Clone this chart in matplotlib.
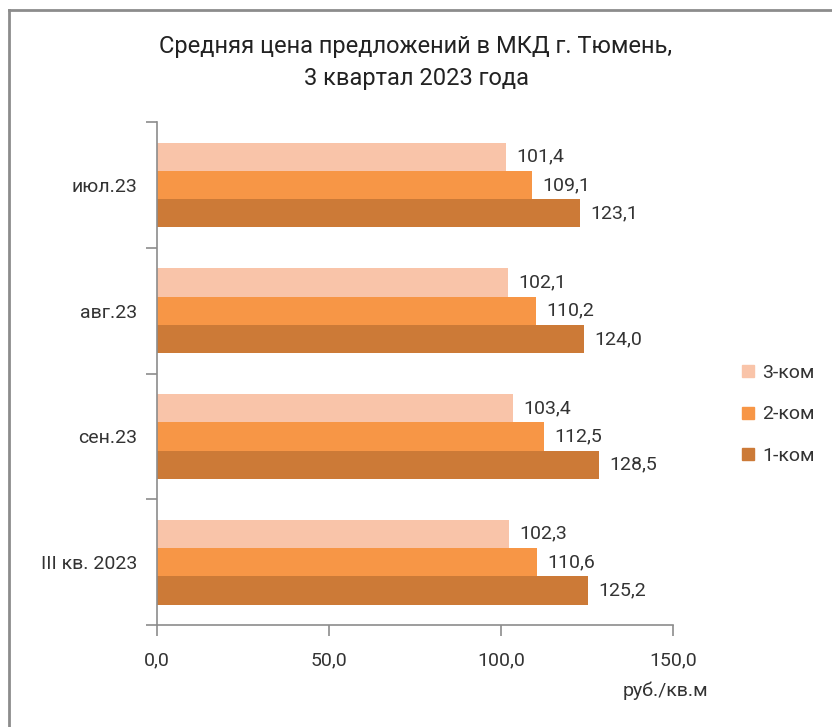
import numpy as np
import matplotlib.pyplot as plt
from matplotlib.lines import Line2D

plt.rcParams['font.family'] = ['Roboto', 'DejaVu Sans']

categories = ['июл.23', 'авг.23', 'сен.23', 'III кв. 2023']
series = ['3-ком', '2-ком', '1-ком']
vals_3 = [101.4, 102.1, 103.4, 102.3]
vals_2 = [109.1, 110.2, 112.5, 110.6]
vals_1 = [123.1, 124.0, 128.5, 125.2]
colors = ['#F9C4A9', '#F79646', '#CC7A37']
xticks = [0, 50, 100, 150]

def fmt(v):
    return f'{v:.1f}'.replace('.', ',')

fig = plt.figure(figsize=(8.32, 7.27), dpi=100)
ax = fig.add_axes([0.1887, 0.1403, 0.6202, 0.6917])

y = np.arange(len(categories))
h = 0.225
offsets = [-h, 0, h]
for vals, off, c in zip([vals_3, vals_2, vals_1], offsets, colors):
    bars = ax.barh(y + off, vals, height=h, color=c)
    for b, v in zip(bars, vals):
        ax.text(v + 3, b.get_y() + b.get_height() / 2, fmt(v),
                va='center', ha='left', fontsize=14, color='#333333')

ax.set_ylim(len(categories) - 0.5, -0.5)
ax.set_xlim(0, 150)
ax.set_xticks(xticks)
ax.set_xticklabels([fmt(t) for t in xticks], fontsize=14, color='#333333')
ax.set_yticks(y)
ax.set_yticklabels(categories, fontsize=14, color='#333333')
ax.tick_params(axis='y', length=0, pad=14)
ax.set_yticks(np.arange(-0.5, len(categories)), minor=True)
ax.tick_params(axis='y', which='minor', length=8, color='#8c8c8c', width=1.2)
ax.tick_params(axis='x', length=8, color='#8c8c8c', width=1.2, pad=11)

for s in ['top', 'right']:
    ax.spines[s].set_visible(False)
for s in ['left', 'bottom']:
    ax.spines[s].set_color('#8c8c8c')
    ax.spines[s].set_linewidth(1.2)
ax.spines['bottom'].set_bounds(0, 150)

fig.text(0.5, 0.914, 'Средняя цена предложений в МКД г. Тюмень,\n3 квартал 2023 года',
         ha='center', va='center', fontsize=17, color='#222222', linespacing=1.45)
fig.text(0.8, 0.043, 'руб./кв.м', ha='center', fontsize=14, color='#333333')

handles = [Line2D([], [], marker='s', linestyle='none', markersize=9,
                  markerfacecolor=c, markeredgecolor=c) for c in colors]
fig.legend(handles, series, loc='center left', bbox_to_anchor=(0.872, 0.43),
           frameon=False, fontsize=14, handletextpad=0.0, labelspacing=1.2,
           labelcolor='#333333', borderaxespad=0, handlelength=1.5)

# frame of the screenshot: top and left lines
fig.add_artist(Line2D([0.011, 1], [0.986, 0.986], transform=fig.transFigure,
                      color='#8c8c8c', lw=2))
fig.add_artist(Line2D([0.011, 0.011], [0, 0.986], transform=fig.transFigure,
                      color='#8c8c8c', lw=2))

fig.savefig('out.png', dpi=100)
